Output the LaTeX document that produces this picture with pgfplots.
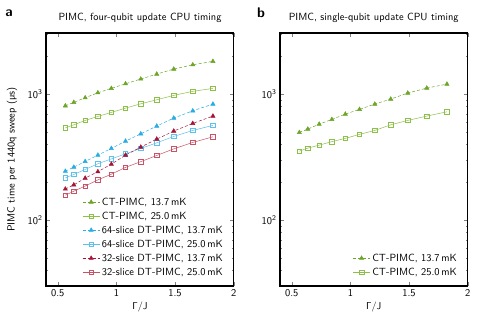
\documentclass[border=0pt]{standalone}
\usepackage{pgfplots}
\pgfplotsset{compat=1.18}
\definecolor{gtri}{RGB}{108,165,40}
\definecolor{gsq}{RGB}{140,192,72}
\definecolor{btri}{RGB}{40,172,226}
\definecolor{bsq}{RGB}{95,192,236}
\definecolor{rtri}{RGB}{165,20,55}
\definecolor{rsq}{RGB}{200,82,102}

\pgfplotstableread{
g    cta   ctb   d64a  d64b  d32a  d32b  sqa  sqb
0.565 811  542   245   217   177   158   498  354
0.637 864  573   264   231   191   170   530  374
0.734 940  621   293   253   216   187   580  395
0.842 1030 668   329   281   243   209   632  421
0.957 1116 719   372   307   279   232   697  447
1.078 1214 778   425   337   329   263   760  481
1.208 1324 842   486   372   381   292   837  517
1.344 1450 906   560   412   441   327   918  573
1.489 1589 982   648   463   511   369   1024 621
1.651 1719 1057  740   517   588   415   1122 672
1.823 1830 1116  837   567   672   460   1207 727
}\timing

\pgfplotsset{
  timingpanel/.style={scale only axis, width=187.7pt, height=253pt,
    anchor=south west, xmin=0.4, xmax=2.0, ymin=30, ymax=3075,
    xtick={0.5,1,1.5,2}, xticklabels={0.5,1,1.5,2},
    ytick={100,1000}, yticklabels={10\textsuperscript{2},10\textsuperscript{3}},
    minor ytick={30,40,50,60,70,80,90,200,300,400,500,600,700,800,900,2000,3000},
    tick align=inside, tick pos=both,
    major tick length=4pt, minor tick length=2.2pt,
    every tick/.style={gray, thin},
    axis line style={black, line width=1.1pt},
    tick label style={font=\sffamily\fontsize{10.4}{12}\selectfont},
    legend cell align=left,
    legend style={draw=none, fill=none, font=\sffamily\fontsize{10.4}{12}\selectfont,
      row sep=1.2pt, anchor=south east, at={(0.97,0.02)}},
  },
  tri/.style={#1, dashed, dash pattern=on 3pt off 2pt, line width=0.5pt,
    mark=triangle*, mark size=2.4pt, mark options={solid, fill=#1}},
  sq/.style={#1, line width=0.5pt,
    mark=square, mark size=2.2pt, mark options={solid, fill=white}},
}

\begin{document}
\begin{tikzpicture}[font=\sffamily\fontsize{10.4}{12}\selectfont]
\useasboundingbox (0,0) rectangle (479pt,-324pt);

\node[font=\fontsize{14}{16}\selectfont\bfseries\sffamily] at (9pt,-13pt) {a};
\node[font=\fontsize{14}{16}\selectfont\bfseries\sffamily] at (261pt,-12.5pt) {b};
\node at (140pt,-18pt) {PIMC, four-qubit update CPU timing};
\node at (373.7pt,-18pt) {PIMC, single-qubit update CPU timing};
\node[rotate=90] at (12pt,-159.5pt) {PIMC time per 1440q sweep (µs)};
\node at (140pt,-307pt) {$\mathsf{\Gamma/J}$};
\node at (373.7pt,-307pt) {$\mathsf{\Gamma/J}$};

\begin{axis}[ymode=log, timingpanel, at={(46pt,-286pt)}]
\addplot[tri=gtri] table[x=g,y=cta] {\timing};
\addlegendentry{CT-PIMC, 13.7\,mK}
\addplot[sq=gsq] table[x=g,y=ctb] {\timing};
\addlegendentry{CT-PIMC, 25.0\,mK}
\addplot[tri=btri] table[x=g,y=d64a] {\timing};
\addlegendentry{64-slice DT-PIMC, 13.7\,mK}
\addplot[sq=bsq] table[x=g,y=d64b] {\timing};
\addlegendentry{64-slice DT-PIMC, 25.0\,mK}
\addplot[tri=rtri] table[x=g,y=d32a] {\timing};
\addlegendentry{32-slice DT-PIMC, 13.7\,mK}
\addplot[sq=rsq] table[x=g,y=d32b] {\timing};
\addlegendentry{32-slice DT-PIMC, 25.0\,mK}
\end{axis}

\begin{axis}[ymode=log, timingpanel, at={(280pt,-286pt)}]
\addplot[tri=gtri] table[x=g,y=sqa] {\timing};
\addlegendentry{CT-PIMC, 13.7\,mK}
\addplot[sq=gsq] table[x=g,y=sqb] {\timing};
\addlegendentry{CT-PIMC, 25.0\,mK}
\end{axis}
\end{tikzpicture}
\end{document}
